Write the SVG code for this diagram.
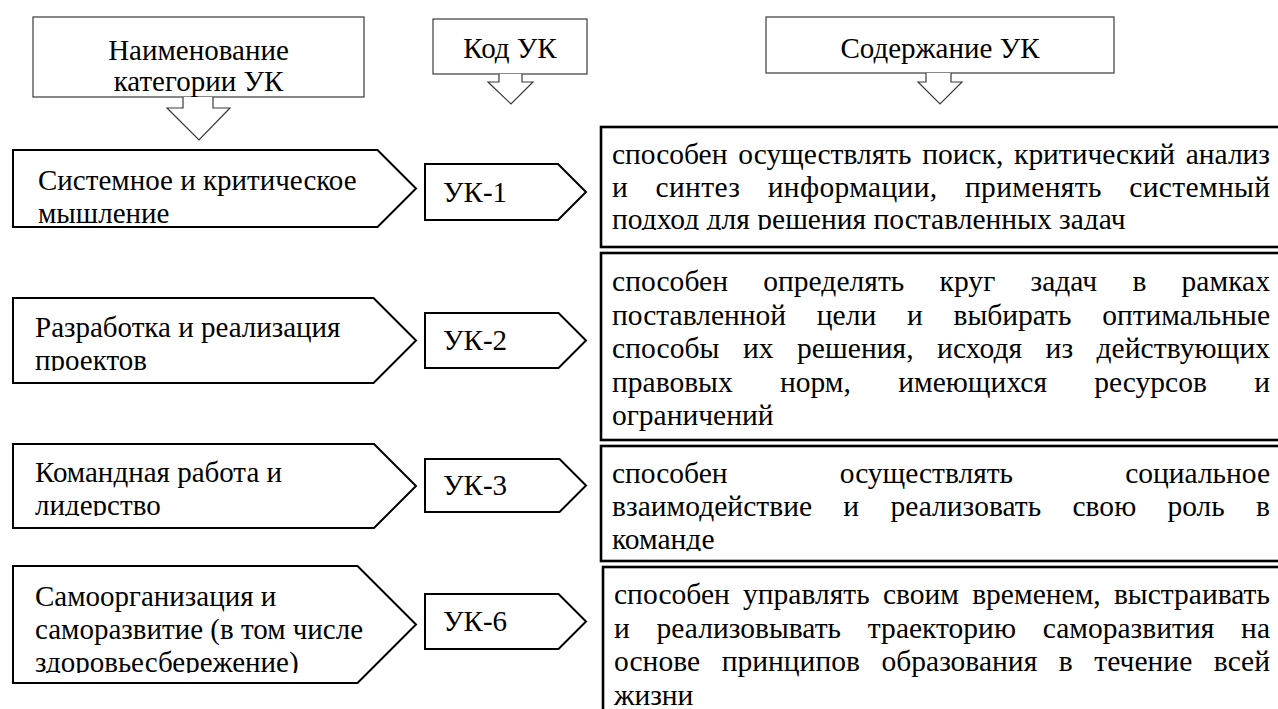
<svg xmlns="http://www.w3.org/2000/svg" width="1278" height="709" viewBox="0 0 1278 709" font-family="'Liberation Serif', 'Times New Roman', serif" font-size="29">
<style>
  text { fill: #000; }
  .hdr { fill: #fff; stroke: #3a3a3a; stroke-width: 1.2; }
  .harrow { fill: #fff; stroke: #3a3a3a; stroke-width: 1.2; stroke-linejoin: miter; }
  .cat { fill: #fff; stroke: #000; stroke-width: 2; stroke-linejoin: miter; }
  .code { fill: #fff; stroke: #000; stroke-width: 2; stroke-linejoin: miter; }
  .content { fill: #fff; stroke: #000; stroke-width: 2.6; }
  .ct { font-size: 29.5px; }
  .mid { text-anchor: middle; }
</style>
<defs>
  <clipPath id="c1"><rect x="13" y="150" width="400" height="74"/></clipPath>
  <clipPath id="c2"><rect x="13" y="298" width="400" height="73"/></clipPath>
  <clipPath id="c3"><rect x="13" y="444" width="400" height="72"/></clipPath>
  <clipPath id="c4"><rect x="13" y="566" width="400" height="107"/></clipPath>
  <clipPath id="cb1"><rect x="601" y="127" width="677" height="103"/></clipPath>
  <clipPath id="cb3"><rect x="601" y="446" width="677" height="105"/></clipPath>
</defs>

<g id="header-category">
  <rect class="hdr" x="33" y="17" width="331" height="80"/>
  <text class="mid" x="198.5" y="60">Наименование</text>
  <text class="mid" x="198.5" y="91">категории УК</text>
</g>
<g id="header-code">
  <rect class="hdr" x="433" y="19" width="154" height="55"/>
  <text class="mid" x="510" y="58">Код УК</text>
</g>
<g id="header-content">
  <rect class="hdr" x="766" y="17" width="348" height="56"/>
  <text class="mid" x="940" y="58">Содержание УК</text>
</g>

<g id="connectors">
  <path class="harrow" d="M183,97 V108 H167 L199,140 L230,108 H213 V97"/>
  <path class="harrow" d="M499,74 V82 H488 L511,104 L533,82 H522 V74"/>
  <path class="harrow" d="M926,73 V82 H918 L940,104 L962,82 H951 V73"/>
</g>

<g id="cat-1">
  <path class="cat" d="M13,150 H377.5 L416,188.5 L377.5,227 H13 Z"/>
  <g clip-path="url(#c1)">
    <text x="38" y="190">Системное и критическое</text>
    <text x="38" y="223">мышление</text>
  </g>
</g>
<g id="cat-2">
  <path class="cat" d="M13,298 H373.5 L416,340.5 L373.5,383 H13 Z"/>
  <g clip-path="url(#c2)">
    <text x="35" y="337">Разработка и реализация</text>
    <text x="35" y="370">проектов</text>
  </g>
</g>
<g id="cat-3">
  <path class="cat" d="M13,444 H374 L416,486 L374,528 H13 Z"/>
  <g clip-path="url(#c3)">
    <text x="35" y="482">Командная работа и</text>
    <text x="35" y="515">лидерство</text>
  </g>
</g>
<g id="cat-4">
  <path class="cat" d="M13,566 H357.5 L416,624.5 L357.5,683 H13 Z"/>
  <g clip-path="url(#c4)">
    <text x="35" y="606">Самоорганизация и</text>
    <text x="35" y="639">саморазвитие (в том числе</text>
    <text x="35" y="672">здоровьесбережение)</text>
  </g>
</g>

<g id="code-1">
  <path class="code" d="M425,164 H558 L586,192 L558,220 H425 Z"/>
  <text x="443" y="202">УК-1</text>
</g>
<g id="code-2">
  <path class="code" d="M425,313 H558.5 L586,340.5 L558.5,368 H425 Z"/>
  <text x="443" y="350">УК-2</text>
</g>
<g id="code-3">
  <path class="code" d="M425,459 H559.5 L586,485.5 L559.5,512 H425 Z"/>
  <text x="443" y="495">УК-3</text>
</g>
<g id="code-6">
  <path class="code" d="M425,594 H558.5 L586,621.5 L558.5,649 H425 Z"/>
  <text x="443" y="631">УК-6</text>
</g>

<g id="content-1" class="ct">
  <rect class="content" x="601" y="127" width="700" height="120"/>
  <g clip-path="url(#cb1)">
    <text x="612" y="164" word-spacing="3.5" textLength="658" lengthAdjust="spacing">способен осуществлять поиск, критический анализ</text>
    <text x="612" y="196.5" word-spacing="19.7" textLength="658" lengthAdjust="spacing">и синтез информации, применять системный</text>
    <text x="612" y="229">подход для решения поставленных задач</text>
  </g>
</g>
<g id="content-2" class="ct">
  <rect class="content" x="601" y="253" width="700" height="187"/>
  <text x="612" y="291" word-spacing="27.8" textLength="658" lengthAdjust="spacing">способен определять круг задач в рамках</text>
  <text x="612" y="324.5" word-spacing="23.4" textLength="658" lengthAdjust="spacing">поставленной цели и выбирать оптимальные</text>
  <text x="612" y="358" word-spacing="16" textLength="658" lengthAdjust="spacing">способы их решения, исходя из действующих</text>
  <text x="612" y="391.5" word-spacing="39.9" textLength="658" lengthAdjust="spacing">правовых норм, имеющихся ресурсов и</text>
  <text x="612" y="425">ограничений</text>
</g>
<g id="content-3" class="ct">
  <rect class="content" x="601" y="446" width="700" height="115"/>
  <g clip-path="url(#cb3)">
    <text x="612" y="483" word-spacing="104.9" textLength="658" lengthAdjust="spacing">способен осуществлять социальное</text>
    <text x="612" y="516" word-spacing="23.8" textLength="658" lengthAdjust="spacing">взаимодействие и реализовать свою роль в</text>
    <text x="612" y="549">команде</text>
  </g>
</g>
<g id="content-6" class="ct">
  <rect class="content" x="603" y="567" width="700" height="160"/>
  <text x="614" y="604" word-spacing="5.8" textLength="656" lengthAdjust="spacing">способен управлять своим временем, выстраивать</text>
  <text x="614" y="637.5" word-spacing="19.4" textLength="656" lengthAdjust="spacing">и реализовывать траекторию саморазвития на</text>
  <text x="614" y="671" word-spacing="14.2" textLength="656" lengthAdjust="spacing">основе принципов образования в течение всей</text>
  <text x="614" y="704.5">жизни</text>
</g>
</svg>
